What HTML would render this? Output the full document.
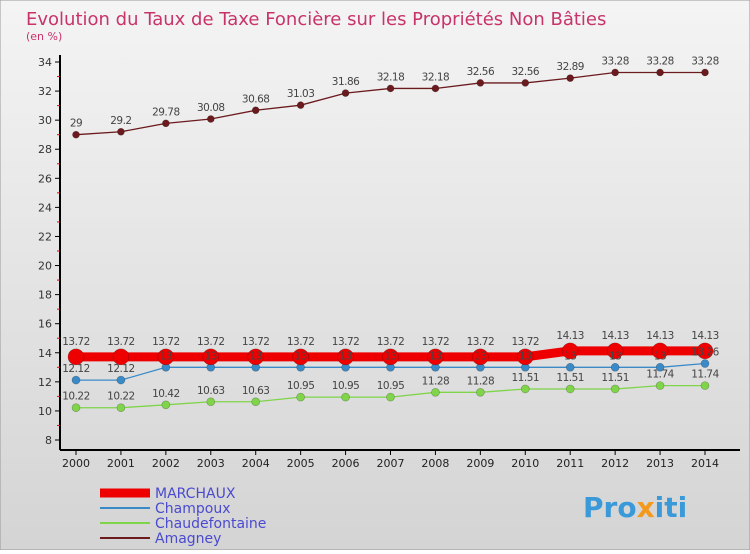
<!DOCTYPE html>
<html><head><meta charset="utf-8"><style>
body{margin:0;width:750px;height:550px;overflow:hidden;font-family:"DejaVu Sans","Liberation Sans",sans-serif}
svg text{font-family:"DejaVu Sans","Liberation Sans",sans-serif}
</style></head><body>
<svg width="750" height="550">
<defs><linearGradient id="bg" x1="0" y1="0" x2="0" y2="1"><stop offset="0" stop-color="#f4f4f4"/><stop offset="1" stop-color="#d4d4d4"/></linearGradient></defs>
<rect x="0" y="0" width="750" height="550" fill="url(#bg)" stroke="#999"/>
<text x="26" y="25" font-size="18" fill="#c8336a">Evolution du Taux de Taxe Foncière sur les Propriétés Non Bâties</text>
<text x="26" y="40" font-size="11" fill="#c8336a">(en %)</text>
<g id="axes"></g>
<g id="series"></g>
<g id="labels"></g>
<g id="legend"></g>
<text x="583" y="517" font-size="28" font-weight="bold" fill="#3a9ad9">Pro<tspan fill="#f39a1e">x</tspan>iti</text>
</svg>
<script>
const years=[2000,2001,2002,2003,2004,2005,2006,2007,2008,2009,2010,2011,2012,2013,2014];
const yTicks=[8,10,12,14,16,18,20,22,24,26,28,30,32,34];
const marchaux=[13.72,13.72,13.72,13.72,13.72,13.72,13.72,13.72,13.72,13.72,13.72,14.13,14.13,14.13,14.13];
const champoux=[12.12,12.12,13,13,13,13,13,13,13,13,13,13,13,13,13.26];
const chaudefontaine=[10.22,10.22,10.42,10.63,10.63,10.95,10.95,10.95,11.28,11.28,11.51,11.51,11.51,11.74,11.74];
const amagney=[29,29.2,29.78,30.08,30.68,31.03,31.86,32.18,32.18,32.56,32.56,32.89,33.28,33.28,33.28];
const NS="http://www.w3.org/2000/svg";
const X=i=>76+i*(705-76)/(years.length-1);
const Y=v=>440-(v-8)*(440-62)/26;
function mk(t,a,p){const e=document.createElementNS(NS,t);for(const k in a)e.setAttribute(k,a[k]);(p||document.getElementById('series')).appendChild(e);return e;}
const ax=document.getElementById('axes');
const lb=document.getElementById('labels');
let e=mk('line',{x1:60,y1:55,x2:60,y2:450,stroke:'#000','stroke-width':2},ax);


e=mk('line',{x1:60,y1:450,x2:740,y2:450,stroke:'#000','stroke-width':2},ax);


yTicks.forEach(v=>{
 mk('line',{x1:55,y1:Y(v),x2:60,y2:Y(v),stroke:'#000'},ax);
 if(v<34)mk('line',{x1:57,y1:Y(v+1),x2:60,y2:Y(v+1),stroke:'#e00'},ax);
 const t=mk('text',{x:52,y:Y(v)+4,'font-size':11,'text-anchor':'end',fill:'#333'},ax);t.textContent=v;
 
 
});
years.forEach((y,i)=>{
 mk('line',{x1:X(i),y1:450,x2:X(i),y2:455,stroke:'#000'},ax);
 const t=mk('text',{x:X(i),y:467,'font-size':11,'text-anchor':'middle',fill:'#222'},ax);t.textContent=y;
 
 
});
function series(data,color,w,r,name,dy){
 const g=mk('g',{});
 
 
 mk('polyline',{points:data.map((v,i)=>X(i)+','+Y(v)).join(' '),fill:'none',stroke:color,'stroke-width':w},g);
 data.forEach((v,i)=>{
  const c=mk('circle',{cx:X(i),cy:Y(v),r:r,fill:color,stroke:'rgba(0,0,0,0.3)','stroke-width':0.6},g);
  
  
  const t=mk('text',{x:X(i),y:Y(v)+dy,'font-size':10.5,'text-anchor':'middle',fill:'#444','letter-spacing':'-0.5'},lb);
  t.textContent=v;
  
  
 });
}
series(amagney,'#6b1a1e',1.3,3.5,'amagney',-8);
series(chaudefontaine,'#7fd44a',1.3,4,'chaudefontaine',-8);
series(champoux,'#3a8ac8',1.3,4,'champoux',-8);
series(marchaux,'#ee0000',9,8,'marchaux',-12);
const lg=document.getElementById('legend');
[['MARCHAUX','#ee0000',9],['Champoux','#3a8ac8',2],['Chaudefontaine','#7fd44a',2],['Amagney','#6b1a1e',2]].forEach((d,i)=>{
 const yy=493+i*15;
 const g=mk('g',{},lg);
 
 
 mk('line',{x1:100,y1:yy,x2:150,y2:yy,stroke:d[1],'stroke-width':d[2]},g);
 const t=mk('text',{x:155,y:yy+5,'font-size':14,fill:'#4a4ad0'},g);t.textContent=d[0];
});
</script>
</body></html>
